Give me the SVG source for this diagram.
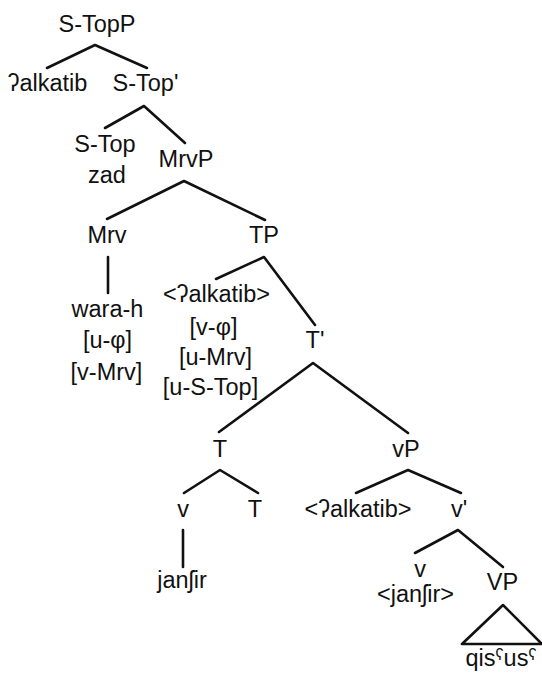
<svg xmlns="http://www.w3.org/2000/svg" width="542" height="673" viewBox="0 0 542 673">
  <style>
    .lbl { font-family: "Liberation Sans", "DejaVu Sans", Arial, sans-serif; font-size: 23.5px; fill: #111; text-anchor: middle; }
    .edge { stroke: #111; stroke-width: 2.6; fill: none; stroke-linecap: round; stroke-linejoin: round; }
  </style>
  <rect width="542" height="673" fill="#fff"/>

  <!-- tree branches -->
  <g id="connectors" class="edge">
    <polyline points="47,68 95,45 147,68"/>
    <polyline points="105,128 144,106 185,143"/>
    <polyline points="107,219 184,181 265,220"/>
    <line x1="108" y1="257" x2="108" y2="293"/>
    <polyline points="216,279 264,257 315,325"/>
    <polyline points="219,432 313,363 408,433"/>
    <polyline points="184,493 220,470 258,493"/>
    <polyline points="356,493 408,470 461,493"/>
    <line x1="183" y1="530" x2="183" y2="567"/>
    <polyline points="415,553 458,530 503,567"/>
    <polygon points="503,605 462,644 542,644"/>
  </g>

  <!-- nodes -->
  <g id="n-stopp"><text class="lbl" x="97" y="32">S-TopP</text></g>
  <g id="n-alkatib"><text class="lbl" x="47.5" y="91">ʔalkatib</text></g>
  <g id="n-stop-bar"><text class="lbl" x="145.5" y="91">S-Top'</text></g>
  <g id="n-stop">
    <text class="lbl" x="105" y="152">S-Top</text>
    <text class="lbl" x="107" y="183">zad</text>
  </g>
  <g id="n-mrvp"><text class="lbl" x="186" y="167">MrvP</text></g>
  <g id="n-mrv"><text class="lbl" x="107" y="243">Mrv</text></g>
  <g id="n-tp"><text class="lbl" x="264" y="243">TP</text></g>
  <g id="n-warah">
    <text class="lbl" x="107.5" y="317">wara-h</text>
    <text class="lbl" x="107.5" y="348">[u-φ]</text>
    <text class="lbl" x="106.5" y="380">[v-Mrv]</text>
  </g>
  <g id="n-spec-tp">
    <text class="lbl" x="216.5" y="302">&lt;ʔalkatib&gt;</text>
    <text class="lbl" x="213.5" y="335">[v-φ]</text>
    <text class="lbl" x="215.5" y="365">[u-Mrv]</text>
    <text class="lbl" x="210.5" y="395">[u-S-Top]</text>
  </g>
  <g id="n-tbar"><text class="lbl" x="315" y="348">T'</text></g>
  <g id="n-t"><text class="lbl" x="220" y="457">T</text></g>
  <g id="n-vp-small"><text class="lbl" x="406" y="457">vP</text></g>
  <g id="n-v-head"><text class="lbl" x="183" y="517">v</text></g>
  <g id="n-t-head"><text class="lbl" x="255" y="517">T</text></g>
  <g id="n-spec-vp"><text class="lbl" x="358" y="517">&lt;ʔalkatib&gt;</text></g>
  <g id="n-vbar"><text class="lbl" x="459" y="517">v'</text></g>
  <g id="n-janshir"><text class="lbl" x="182" y="588">janʃir</text></g>
  <g id="n-v-copy">
    <text class="lbl" x="420" y="577">v</text>
    <text class="lbl" x="415.5" y="602">&lt;janʃir&gt;</text>
  </g>
  <g id="n-vp-big"><text class="lbl" x="502.5" y="590">VP</text></g>
  <g id="n-qisus"><text class="lbl" x="501" y="666">qisˤusˤ</text></g>
</svg>
